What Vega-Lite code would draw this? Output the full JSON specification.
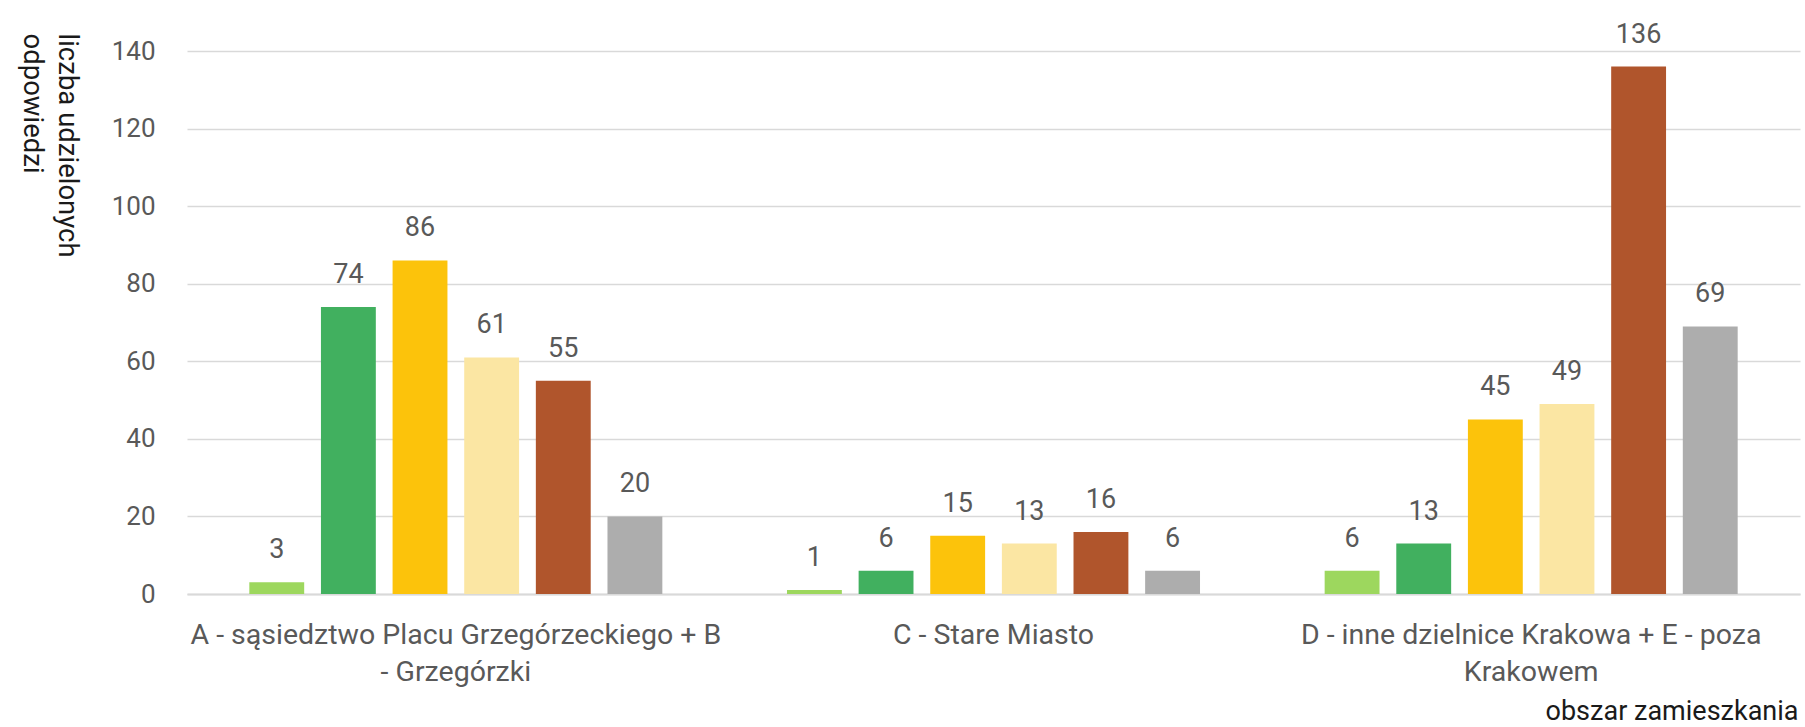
{
  "$schema": "https://vega.github.io/schema/vega-lite/v6.json",
  "width": 1613,
  "height": 543,
  "autosize": {"type": "none"},
  "padding": {"left": 187, "top": 51, "right": 5, "bottom": 133},
  "background": "white",
  "config": {
    "view": {"stroke": null},
    "font": "Roboto"
  },
  "data": {
    "values": [
      {"obszar": "A - sąsiedztwo Placu Grzegórzeckiego + B - Grzegórzki", "seria": "seria 1", "liczba": 3},
      {"obszar": "A - sąsiedztwo Placu Grzegórzeckiego + B - Grzegórzki", "seria": "seria 2", "liczba": 74},
      {"obszar": "A - sąsiedztwo Placu Grzegórzeckiego + B - Grzegórzki", "seria": "seria 3", "liczba": 86},
      {"obszar": "A - sąsiedztwo Placu Grzegórzeckiego + B - Grzegórzki", "seria": "seria 4", "liczba": 61},
      {"obszar": "A - sąsiedztwo Placu Grzegórzeckiego + B - Grzegórzki", "seria": "seria 5", "liczba": 55},
      {"obszar": "A - sąsiedztwo Placu Grzegórzeckiego + B - Grzegórzki", "seria": "seria 6", "liczba": 20},
      {"obszar": "C - Stare Miasto", "seria": "seria 1", "liczba": 1},
      {"obszar": "C - Stare Miasto", "seria": "seria 2", "liczba": 6},
      {"obszar": "C - Stare Miasto", "seria": "seria 3", "liczba": 15},
      {"obszar": "C - Stare Miasto", "seria": "seria 4", "liczba": 13},
      {"obszar": "C - Stare Miasto", "seria": "seria 5", "liczba": 16},
      {"obszar": "C - Stare Miasto", "seria": "seria 6", "liczba": 6},
      {"obszar": "D - inne dzielnice Krakowa + E - poza Krakowem", "seria": "seria 1", "liczba": 6},
      {"obszar": "D - inne dzielnice Krakowa + E - poza Krakowem", "seria": "seria 2", "liczba": 13},
      {"obszar": "D - inne dzielnice Krakowa + E - poza Krakowem", "seria": "seria 3", "liczba": 45},
      {"obszar": "D - inne dzielnice Krakowa + E - poza Krakowem", "seria": "seria 4", "liczba": 49},
      {"obszar": "D - inne dzielnice Krakowa + E - poza Krakowem", "seria": "seria 5", "liczba": 136},
      {"obszar": "D - inne dzielnice Krakowa + E - poza Krakowem", "seria": "seria 6", "liczba": 69}
    ]
  },
  "encoding": {
    "x": {
      "field": "obszar",
      "type": "nominal",
      "sort": null,
      "scale": {"paddingInner": 0, "paddingOuter": 0},
      "axis": {
        "title": "obszar zamieszkania",
        "titleFont": "Roboto",
        "titleFontSize": 27,
        "titleFontWeight": "normal",
        "titleColor": "#1a1a1a",
        "titleAnchor": "end",
        "titleAlign": "right",
        "titleBaseline": "alphabetic",
        "titleX": 1611,
        "titleY": 125,
        "labelAngle": 0,
        "labelFont": "Roboto",
        "labelFontSize": 28.5,
        "labelColor": "#595959",
        "labelLimit": 0,
        "labelBaseline": "top",
        "labelLineHeight": 37,
        "labelPadding": 26,
        "labelExpr": "datum.value == 'A - sąsiedztwo Placu Grzegórzeckiego + B - Grzegórzki' ? ['A - sąsiedztwo Placu Grzegórzeckiego + B', '- Grzegórzki'] : datum.value == 'D - inne dzielnice Krakowa + E - poza Krakowem' ? ['D - inne dzielnice Krakowa + E - poza', 'Krakowem'] : datum.value",
        "ticks": false,
        "domain": true,
        "domainColor": "#d9d9d9",
        "domainWidth": 2,
        "grid": false
      }
    },
    "xOffset": {
      "field": "seria",
      "type": "nominal",
      "scale": {"paddingInner": 0.234, "paddingOuter": 0.87}
    },
    "y": {
      "field": "liczba",
      "type": "quantitative",
      "scale": {"domain": [0, 140], "nice": false},
      "axis": {
        "values": [0, 20, 40, 60, 80, 100, 120, 140],
        "title": ["liczba udzielonych", "odpowiedzi"],
        "titleFont": "Roboto",
        "titleFontSize": 27.5,
        "titleFontWeight": "normal",
        "titleColor": "#1a1a1a",
        "titleAngle": 90,
        "titleAlign": "left",
        "titleBaseline": "top",
        "titleLineHeight": 35,
        "titleX": -107,
        "titleY": -18,
        "labelFont": "Roboto",
        "labelFontSize": 26,
        "labelColor": "#595959",
        "labelPadding": 32,
        "ticks": false,
        "domain": false,
        "grid": true,
        "gridColor": "#d9d9d9",
        "gridWidth": 1.5
      }
    }
  },
  "layer": [
    {
      "mark": {"type": "bar"},
      "encoding": {
        "color": {
          "field": "seria",
          "type": "nominal",
          "scale": {
            "domain": ["seria 1", "seria 2", "seria 3", "seria 4", "seria 5", "seria 6"],
            "range": ["#9dd75e", "#41b05f", "#fcc30b", "#fbe6a3", "#b0552c", "#adadad"]
          },
          "legend": null
        }
      }
    },
    {
      "mark": {
        "type": "text",
        "baseline": "alphabetic",
        "dy": -24,
        "font": "Roboto",
        "fontSize": 27,
        "color": "#595959"
      },
      "encoding": {
        "text": {"field": "liczba", "type": "quantitative"}
      }
    }
  ]
}
